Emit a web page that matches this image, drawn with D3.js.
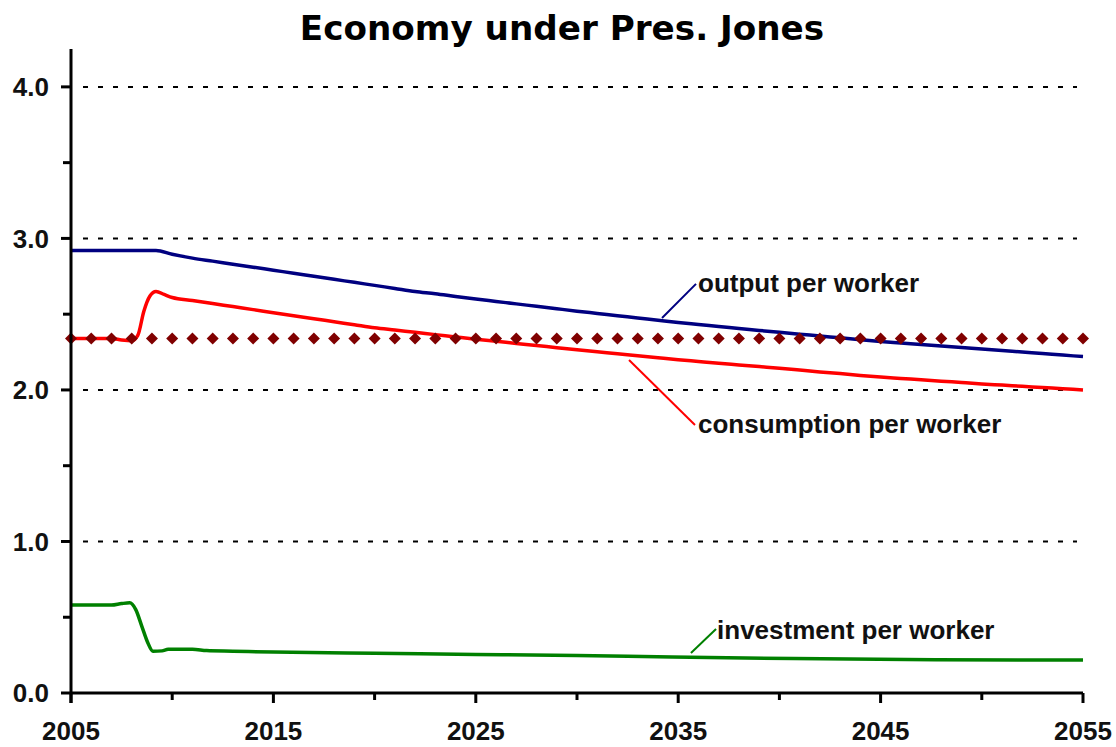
<!DOCTYPE html>
<html>
<head>
<meta charset="utf-8">
<script src="https://cdn.jsdelivr.net/npm/d3@7"></script>
<style>
  html, body { margin: 0; padding: 0; background: #ffffff; }
  svg { display: block; }
</style>
</head>
<body>
<svg id="chart" width="1116" height="747"></svg>
<script>
// ---------------- data ----------------
const title = "Economy under Pres. Jones";

const outputYears = [2005,2006,2007,2008,2009,2009.2,2010,2011,2012,2013,2014,2015,2016,2017,2018,2019,2020,2021,2022,2023,2024,2025,2026,2027,2028,2029,2030,2031,2032,2033,2034,2035,2036,2037,2038,2039,2040,2041,2042,2043,2044,2045,2046,2047,2048,2049,2050,2051,2052,2053,2054,2055];
const outputValues = [2.92,2.92,2.92,2.92,2.92,2.92,2.895,2.87,2.85,2.83,2.81,2.79,2.77,2.75,2.73,2.71,2.69,2.67,2.65,2.635,2.617,2.60,2.584,2.568,2.552,2.536,2.52,2.505,2.49,2.475,2.46,2.445,2.432,2.419,2.406,2.393,2.38,2.368,2.356,2.344,2.332,2.32,2.31,2.30,2.29,2.28,2.27,2.26,2.25,2.24,2.23,2.22];

const consumptionYears = [2005,2006,2007,2007.5,2008,2008.3,2008.6,2008.9,2009.2,2009.6,2010,2011,2012,2013,2014,2015,2016,2017,2018,2019,2020,2021,2022,2023,2024,2025,2026,2027,2028,2029,2030,2031,2032,2033,2034,2035,2036,2037,2038,2039,2040,2041,2042,2043,2044,2045,2046,2047,2048,2049,2050,2051,2052,2053,2054,2055];
const consumptionValues = [2.34,2.34,2.34,2.33,2.325,2.36,2.52,2.62,2.65,2.63,2.61,2.59,2.57,2.55,2.53,2.51,2.49,2.47,2.45,2.43,2.41,2.395,2.38,2.365,2.35,2.335,2.321,2.307,2.293,2.279,2.265,2.252,2.239,2.226,2.213,2.20,2.188,2.176,2.165,2.154,2.143,2.131,2.119,2.108,2.096,2.085,2.076,2.067,2.058,2.049,2.04,2.032,2.024,2.016,2.008,2.0];

const investmentYears = [2005,2006,2007,2007.5,2007.9,2008.2,2008.5,2008.8,2009.05,2009.5,2009.8,2011,2011.7,2013,2015,2020,2025,2030,2034.7,2040.7,2047.7,2055];
const investmentValues = [0.58,0.58,0.58,0.59,0.595,0.55,0.44,0.33,0.275,0.278,0.288,0.288,0.28,0.276,0.27,0.262,0.254,0.247,0.237,0.227,0.219,0.217];

const steadyYears = [2005,2006,2007,2008,2009,2010,2011,2012,2013,2014,2015,2016,2017,2018,2019,2020,2021,2022,2023,2024,2025,2026,2027,2028,2029,2030,2031,2032,2033,2034,2035,2036,2037,2038,2039,2040,2041,2042,2043,2044,2045,2046,2047,2048,2049,2050,2051,2052,2053,2054,2055];
const steadyValues = [2.34,2.34,2.34,2.34,2.34,2.34,2.34,2.34,2.34,2.34,2.34,2.34,2.34,2.34,2.34,2.34,2.34,2.34,2.34,2.34,2.34,2.34,2.34,2.34,2.34,2.34,2.34,2.34,2.34,2.34,2.34,2.34,2.34,2.34,2.34,2.34,2.34,2.34,2.34,2.34,2.34,2.34,2.34,2.34,2.34,2.34,2.34,2.34,2.34,2.34,2.34];

const xMajorTicks = [2005,2015,2025,2035,2045,2055];
const xMinorTicks = [2010,2020,2030,2040,2050];
const yMajorTicks = [0,1,2,3,4];
const yMinorTicks = [0.5,1.5,2.5,3.5];
const gridValues = [1,2,3,4];

const labels = [
  {text: "output per worker", year: 2035.98, value: 2.647, color: "#000080",
   leader: [2034.2, 2.475, 2035.88, 2.70]},
  {text: "consumption per worker", year: 2035.98, value: 1.716, color: "#ff0000",
   leader: [2032.57, 2.198, 2035.83, 1.769]},
  {text: "investment per worker", year: 2036.92, value: 0.356, color: "#008000",
   leader: [2035.63, 0.264, 2036.87, 0.422]}
];

// ---------------- layout ----------------
const svg = d3.select("#chart");
const mLeft = 71, mRight = 1083, mTop = 49, mBottom = 693;
const x = d3.scaleLinear().domain([2005, 2055]).range([mLeft, mRight]);
const y = d3.scaleLinear().domain([0, 4.25]).range([mBottom, mTop]);

const fontLabel = "'Liberation Sans', Arial, sans-serif";

// gridlines
svg.append("g").selectAll("line").data(gridValues).join("line")
  .attr("x1", mLeft + 12).attr("x2", mRight - 6)
  .attr("y1", d => y(d)).attr("y2", d => y(d))
  .attr("stroke", "#000").attr("stroke-width", 2)
  .attr("stroke-dasharray", "5,10");

// series
const line = d3.line().x(d => x(d[0])).y(d => y(d[1])).curve(d3.curveMonotoneX);
function drawSeries(years, values, color) {
  svg.append("path")
    .datum(years.map((yr, i) => [yr, values[i]]))
    .attr("d", line)
    .attr("fill", "none")
    .attr("stroke", color)
    .attr("stroke-width", 3.5)
    .attr("stroke-linejoin", "round");
}
drawSeries(investmentYears, investmentValues, "#008000");
drawSeries(consumptionYears, consumptionValues, "#ff0000");
drawSeries(outputYears, outputValues, "#000080");

// diamonds
svg.append("g").selectAll("path").data(steadyYears.map((yr, i) => [yr, steadyValues[i]])).join("path")
  .attr("transform", d => `translate(${x(d[0])},${y(d[1])})`)
  .attr("d", "M0,-6L6,0L0,6L-6,0Z")
  .attr("fill", "#800000");

// axes
const yAxis = svg.append("g");
yAxis.append("line").attr("x1", mLeft).attr("x2", mLeft).attr("y1", mTop).attr("y2", mBottom + 10)
  .attr("stroke", "#000").attr("stroke-width", 3);
yAxis.selectAll(".ymaj").data(yMajorTicks).join("line").attr("class", "ymaj")
  .attr("x1", mLeft - 10).attr("x2", mLeft).attr("y1", d => y(d)).attr("y2", d => y(d))
  .attr("stroke", "#000").attr("stroke-width", 3);
yAxis.selectAll(".ymin").data(yMinorTicks).join("line").attr("class", "ymin")
  .attr("x1", mLeft - 8).attr("x2", mLeft).attr("y1", d => y(d)).attr("y2", d => y(d))
  .attr("stroke", "#000").attr("stroke-width", 3);
yAxis.selectAll("text").data(yMajorTicks).join("text")
  .attr("x", 49).attr("y", d => y(d)).attr("dy", "0.36em")
  .attr("text-anchor", "end")
  .style("font-family", fontLabel).style("font-weight", "bold").style("font-size", "26px")
  .attr("fill", "#111")
  .text(d => d3.format(".1f")(d));

const xAxis = svg.append("g");
xAxis.append("line").attr("x1", mLeft).attr("x2", mRight).attr("y1", mBottom).attr("y2", mBottom)
  .attr("stroke", "#000").attr("stroke-width", 3);
xAxis.selectAll(".xmaj").data(xMajorTicks).join("line").attr("class", "xmaj")
  .attr("x1", d => x(d)).attr("x2", d => x(d)).attr("y1", mBottom).attr("y2", mBottom + 10)
  .attr("stroke", "#000").attr("stroke-width", 3);
xAxis.selectAll(".xmin").data(xMinorTicks).join("line").attr("class", "xmin")
  .attr("x1", d => x(d)).attr("x2", d => x(d)).attr("y1", mBottom).attr("y2", mBottom + 7)
  .attr("stroke", "#000").attr("stroke-width", 3);
xAxis.selectAll("text").data(xMajorTicks).join("text")
  .attr("x", d => x(d)).attr("y", 740)
  .attr("text-anchor", "middle")
  .style("font-family", fontLabel).style("font-weight", "bold").style("font-size", "26px")
  .attr("fill", "#111")
  .text(d => d);

// annotations
labels.forEach(l => {
  svg.append("line")
    .attr("x1", x(l.leader[0])).attr("y1", y(l.leader[1]))
    .attr("x2", x(l.leader[2])).attr("y2", y(l.leader[3]))
    .attr("stroke", l.color).attr("stroke-width", 2);
  svg.append("text")
    .attr("x", x(l.year)).attr("y", y(l.value))
    .style("font-family", fontLabel).style("font-weight", "bold").style("font-size", "26px")
    .attr("fill", "#111")
    .text(l.text);
});

// title
const t = svg.append("text")
  .attr("x", 562).attr("y", 40)
  .attr("text-anchor", "middle")
  .style("font-family", "'DejaVu Sans', Verdana, sans-serif").style("font-weight", "bold")
  .style("font-size", "30px")
  .attr("fill", "#000")
  .text(title);
const w = t.node().getComputedTextLength();
t.style("font-size", (30 * 524 / w).toFixed(1) + "px");
</script>
</body>
</html>
